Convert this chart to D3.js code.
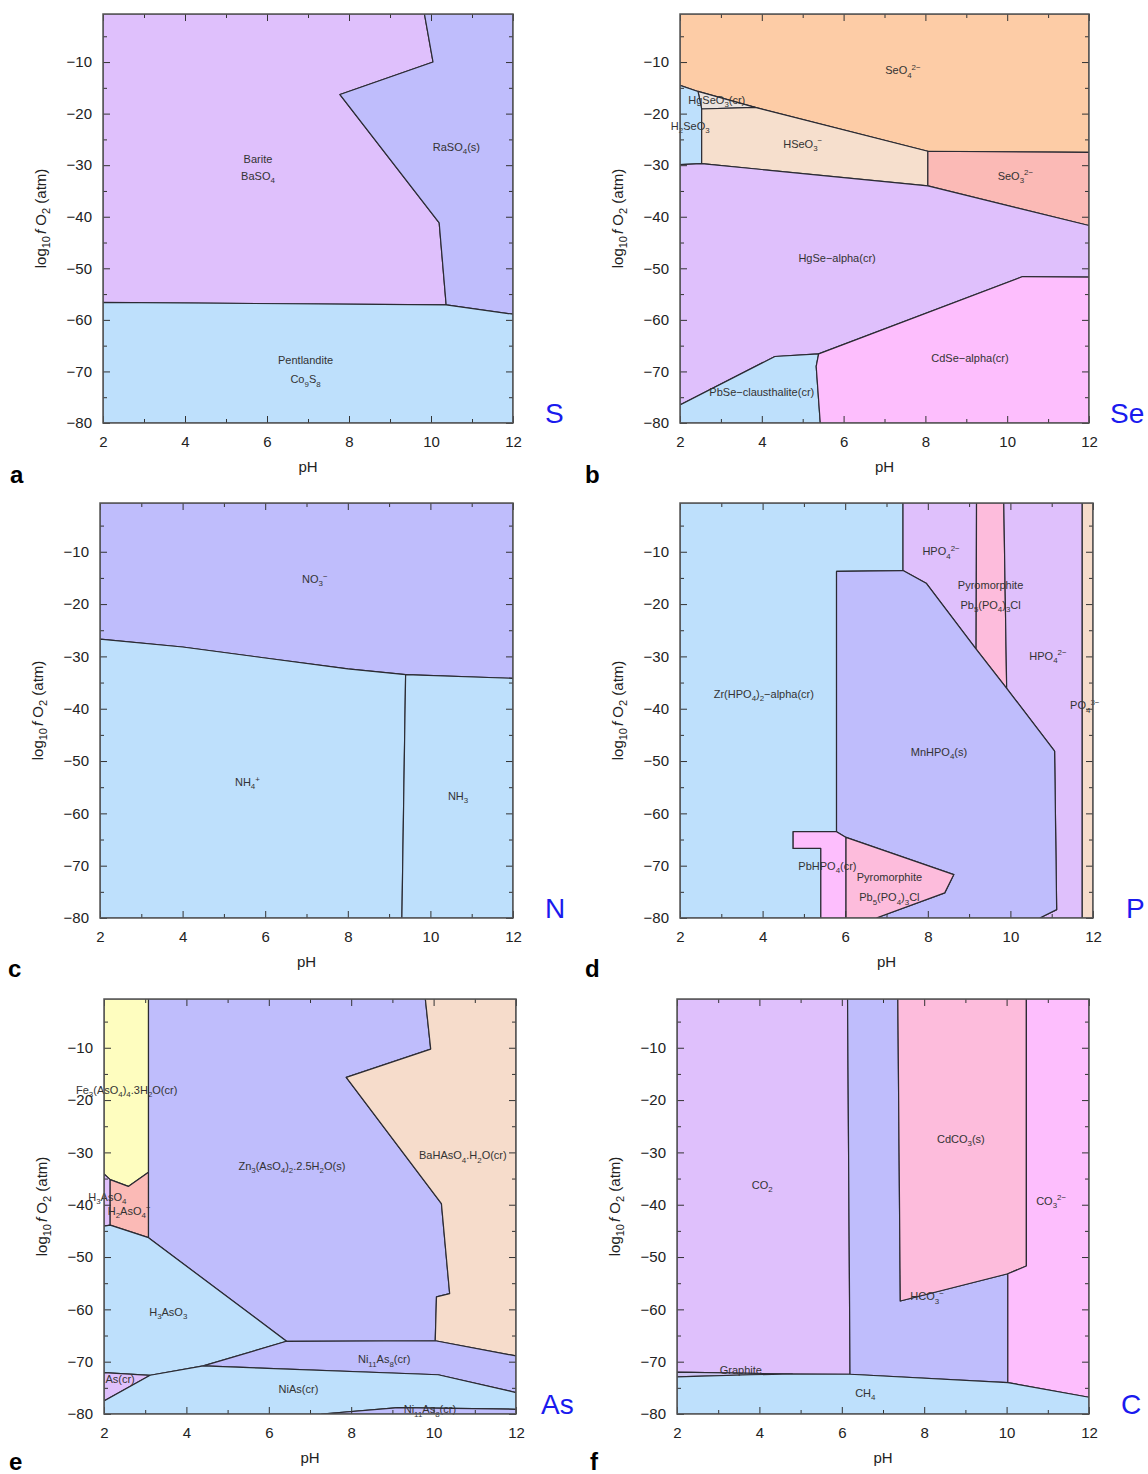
<!DOCTYPE html>
<html><head><meta charset="utf-8">
<script src="https://cdn.jsdelivr.net/npm/d3@7"></script>
<style>
body{margin:0;background:#fff}
svg{display:block}
text{font-family:"Liberation Sans",Arial,Helvetica,sans-serif}
</style>
</head><body>
<svg id="chart" width="1148" height="1474"></svg>
<script>
// ---------- axes ----------
const TOP = -0.68;               // log10 fO2 of air, top of every panel
const pHTicks = [2, 4, 6, 8, 10, 12];
const pHMinor = [3, 5, 7, 9, 11];
const logTicks = [-10, -20, -30, -40, -50, -60, -70, -80];
const logMinor = [-5, -15, -25, -35, -45, -55, -65, -75];

// ---------- colours ----------
const LAV = "#dfc0fc", PERI = "#bfbdfc", LBLUE = "#bee0fc", ORANGE = "#fdcca6",
      PEACH = "#f6dfcd", PEACH2 = "#f6dccb", SALMON = "#fbbab6", MAGENTA = "#fdbefd",
      PINK = "#fdbcdc", YELLOW = "#fefdbf", GREY = "#ebe3df", GRAPH = "#cfc6f4";

// ---------- panel a : S ----------
const S_barite = [[2,TOP],[9.84,TOP],[10.05,-10.0],[7.78,-16.3],[10.2,-41.2],[10.37,-57.1],[2,-56.6]];
const S_raso4 = [[9.84,TOP],[12,TOP],[12,-58.9],[10.37,-57.1],[10.2,-41.2],[7.78,-16.3],[10.05,-10.0]];
const S_pent = [[2,-56.6],[10.37,-57.1],[12,-58.9],[12,-80],[2,-80]];
const S_labels = [["Barite",5.78,-29.6],["BaSO_{4}",5.78,-32.9],["RaSO_{4}(s)",10.62,-27.2],
                  ["Pentlandite",6.94,-68.6],["Co_{9}S_{8}",6.94,-72.3]];

// ---------- panel b : Se ----------
const Se_seo4 = [[2,TOP],[12,TOP],[12,-27.5],[8.06,-27.3],[3.84,-18.8],[2.44,-15.7],[2,-14.5]];
const Se_hgseo3 = [[2.44,-15.7],[3.84,-18.8],[2.53,-19.1]];
const Se_h2seo3 = [[2,-14.5],[2.44,-15.7],[2.53,-19.1],[2.53,-29.7],[2,-29.9]];
const Se_hseo3 = [[2.53,-19.1],[3.84,-18.8],[8.06,-27.3],[8.06,-34.0],[2.53,-29.7]];
const Se_seo3 = [[8.06,-27.3],[12,-27.5],[12,-41.7],[8.06,-34.0]];
const Se_hgse = [[2,-29.9],[2.53,-29.7],[8.06,-34.0],[12,-41.7],[12,-51.7],[10.38,-51.6],[5.39,-66.6],[4.32,-67.1],[2,-76.5]];
const Se_pbse = [[2,-76.5],[4.32,-67.1],[5.39,-66.6],[5.33,-69.0],[5.43,-80],[2,-80]];
const Se_cdse = [[5.39,-66.6],[10.38,-51.6],[12,-51.7],[12,-80],[5.43,-80],[5.33,-69.0]];
const Se_labels = [["SeO_{4}^{2−}",7.45,-12.4],["HgSeO_{3}(cr)",2.9,-18.1],["H_{2}SeO_{3}",2.25,-23.2],
                   ["HSeO_{3}^{−}",5.0,-26.6],["SeO_{3}^{2−}",10.2,-32.8],["HgSe−alpha(cr)",5.84,-48.8],
                   ["CdSe−alpha(cr)",9.09,-68.2],["PbSe−clausthalite(cr)",4.0,-74.8]];

// ---------- panel c : N ----------
const N_no3 = [[2,TOP],[12,TOP],[12,-34.2],[9.4,-33.5],[8,-32.4],[6,-30.3],[4,-28.2],[2,-26.7]];
const N_nh4 = [[2,-26.7],[4,-28.2],[6,-30.3],[8,-32.4],[9.4,-33.5],[9.31,-80],[2,-80]];
const N_nh3 = [[9.4,-33.5],[12,-34.2],[12,-80],[9.31,-80]];
const N_labels = [["NO_{3}^{−}",7.2,-16.0],["NH_{4}^{+}",5.57,-54.8],["NH_{3}",10.67,-57.4]];

// ---------- panel d : P ----------
const P_zr = [[2,TOP],[7.40,TOP],[7.40,-13.6],[5.79,-13.75],[5.79,-63.5],[4.74,-63.5],[4.74,-66.7],[5.41,-66.7],[5.41,-80],[2,-80]];
const P_hpo4a = [[7.40,TOP],[9.18,TOP],[9.17,-28.6],[7.96,-16.0],[7.40,-13.6]];
const P_pyro1 = [[9.18,TOP],[9.84,TOP],[9.91,-36.1],[9.17,-28.6]];
const P_hpo4b = [[9.84,TOP],[11.74,TOP],[11.74,-80],[10.71,-80],[11.12,-78.4],[11.07,-48.1],[9.91,-36.1]];
const P_po4 = [[11.74,TOP],[12,TOP],[12,-80],[11.74,-80]];
const P_mn = [[5.79,-13.75],[7.40,-13.6],[7.96,-16.0],[9.17,-28.6],[9.91,-36.1],[11.07,-48.1],[11.12,-78.4],[10.71,-80],[6.75,-80],[8.41,-75.2],[8.63,-71.7],[6.02,-64.6],[5.79,-63.5]];
const P_pbhpo4 = [[4.74,-63.5],[5.79,-63.5],[6.02,-64.6],[6.02,-80],[5.41,-80],[5.41,-66.7],[4.74,-66.7]];
const P_pyro2 = [[6.02,-64.6],[8.63,-71.7],[8.41,-75.2],[6.75,-80],[6.02,-80]];
const P_labels = [["HPO_{4}^{2−}",8.32,-10.7],["Pyromorphite",9.52,-17.1],["Pb_{5}(PO_{4})_{3}Cl",9.52,-20.9],
                  ["HPO_{4}^{2−}",10.91,-30.7],["PO_{4}^{3−}",11.8,-40.1],["Zr(HPO_{4})_{2}−alpha(cr)",4.03,-37.9],
                  ["MnHPO_{4}(s)",8.27,-49.0],["PbHPO_{4}(cr)",5.57,-70.8],["Pyromorphite",7.07,-73.0],
                  ["Pb_{5}(PO_{4})_{3}Cl",7.07,-76.8]];

// ---------- panel e : As ----------
const As_fe = [[2,TOP],[3.08,TOP],[3.08,-33.8],[2.59,-36.5],[2.15,-35.2],[2,-34.1]];
const As_h3aso4 = [[2,-34.1],[2.15,-35.2],[2.15,-43.9],[2,-44.1]];
const As_h2aso4 = [[2.15,-35.2],[2.59,-36.5],[3.08,-33.8],[3.08,-46.3],[2.15,-43.9]];
const As_zn = [[3.08,TOP],[9.8,TOP],[9.93,-10.25],[7.88,-15.65],[10.19,-39.8],[10.39,-57.0],[10.07,-57.6],[10.04,-66.0],[6.43,-66.1],[3.08,-46.3]];
const As_ba = [[9.8,TOP],[12,TOP],[12,-68.9],[10.04,-66.0],[10.07,-57.6],[10.39,-57.0],[10.19,-39.8],[7.88,-15.65],[9.93,-10.25]];
const As_h3aso3 = [[2,-44.1],[2.15,-43.9],[3.08,-46.3],[6.43,-66.1],[4.41,-70.8],[3.12,-72.6],[2,-72.1]];
const As_ni11a = [[6.43,-66.1],[10.04,-66.0],[12,-68.9],[12,-75.9],[10.11,-72.5],[4.41,-70.8]];
const As_ascr = [[2,-72.1],[3.12,-72.6],[2,-77.5]];
const As_nias = [[2,-77.5],[3.12,-72.6],[4.41,-70.8],[10.11,-72.5],[12,-75.9],[12,-79.1],[9.14,-78.8],[7.28,-80],[2,-80]];
const As_ni11b = [[7.28,-80],[9.14,-78.8],[12,-79.1],[12,-80]];
const As_labels = [["Fe_{3}(AsO_{4})_{4}.3H_{2}O(cr)",2.55,-18.8],["H_{3}AsO_{4}",2.08,-39.2],["H_{2}AsO_{4}^{−}",2.61,-41.9],
                   ["Zn_{3}(AsO_{4})_{2}.2.5H_{2}O(s)",6.56,-33.4],["BaHAsO_{4}.H_{2}O(cr)",10.71,-31.3],
                   ["H_{3}AsO_{3}",3.56,-61.2],["Ni_{11}As_{8}(cr)",8.80,-70.3],["As(cr)",2.39,-74.1],
                   ["NiAs(cr)",6.72,-76.0],["Ni_{11}As_{8}(cr)",9.91,-79.9]];

// ---------- panel f : C ----------
const C_co2 = [[2,TOP],[6.14,TOP],[6.2,-72.4],[4.8,-72.35],[2,-72.0]];
const C_graph = [[2,-72.0],[4.8,-72.35],[3.8,-72.5],[2,-72.9]];
const C_hco3 = [[6.14,TOP],[7.36,TOP],[7.42,-58.4],[10.03,-53.2],[10.03,-74.0],[6.2,-72.4]];
const C_cdco3 = [[7.36,TOP],[10.48,TOP],[10.48,-51.7],[10.03,-53.2],[7.42,-58.4]];
const C_co3 = [[10.48,TOP],[12,TOP],[12,-76.8],[10.03,-74.0],[10.03,-53.2],[10.48,-51.7]];
const C_ch4 = [[2,-72.9],[3.8,-72.5],[4.8,-72.35],[6.2,-72.4],[10.03,-74.0],[12,-76.8],[12,-80],[2,-80]];
const C_labels = [["CO_{2}",4.07,-37.0],["CdCO_{3}(s)",8.89,-28.2],["CO_{3}^{2−}",11.08,-40.0],
                  ["HCO_{3}^{−}",8.07,-58.3],["Graphite",3.55,-72.4],["CH_{4}",6.57,-76.7]];

// ---------- panel layout ----------
const panels = [
  {letter:"a", elem:"S",  x0:103, x1:513,  yT:14,  yB:423,  lx:10,  ly:483,  ex:545,
   regions:[[S_barite,LAV],[S_raso4,PERI],[S_pent,LBLUE]], labels:S_labels},
  {letter:"b", elem:"Se", x0:680, x1:1089, yT:14,  yB:423,  lx:585, ly:483,  ex:1110,
   regions:[[Se_seo4,ORANGE],[Se_hgseo3,GREY],[Se_h2seo3,LBLUE],[Se_hseo3,PEACH],[Se_seo3,SALMON],
            [Se_hgse,LAV],[Se_pbse,LBLUE],[Se_cdse,MAGENTA]], labels:Se_labels},
  {letter:"c", elem:"N",  x0:100, x1:513,  yT:503, yB:918,  lx:8,   ly:977,  ex:545,
   regions:[[N_no3,PERI],[N_nh4,LBLUE],[N_nh3,LBLUE]], labels:N_labels},
  {letter:"d", elem:"P",  x0:680, x1:1093, yT:503, yB:918,  lx:585, ly:977,  ex:1126,
   regions:[[P_zr,LBLUE],[P_hpo4a,LAV],[P_pyro1,PINK],[P_hpo4b,LAV],[P_po4,PEACH2],[P_mn,PERI],
            [P_pbhpo4,MAGENTA],[P_pyro2,PINK]], labels:P_labels},
  {letter:"e", elem:"As", x0:104, x1:516,  yT:999, yB:1414, lx:9,   ly:1470, ex:541,
   regions:[[As_fe,YELLOW],[As_h3aso4,LAV],[As_h2aso4,SALMON],[As_zn,PERI],[As_ba,PEACH2],[As_h3aso3,LBLUE],
            [As_ni11a,PERI],[As_ascr,LAV],[As_nias,LBLUE],[As_ni11b,PERI]], labels:As_labels},
  {letter:"f", elem:"C",  x0:677, x1:1089, yT:999, yB:1414, lx:590, ly:1470, ex:1121,
   regions:[[C_co2,LAV],[C_graph,GRAPH],[C_hco3,PERI],[C_cdco3,PINK],[C_co3,MAGENTA],[C_ch4,LBLUE]], labels:C_labels}
];

const svg = d3.select("#chart");
const FONT = '"Liberation Sans",Arial,Helvetica,sans-serif';

function rich(textSel, str, fs) {
  const re = /([_^])\{([^}]*)\}|([^_^]+)/g;
  let cur = 0, m;
  while ((m = re.exec(str)) !== null) {
    let t, target = 0, size = fs;
    if (m[1]) { t = m[2]; target = m[1] === "_" ? 0.3 * fs : -0.42 * fs; size = 0.72 * fs; }
    else t = m[3];
    textSel.append("tspan").text(t).attr("dy", (target - cur) + "px").attr("font-size", size);
    cur = target;
  }
}

panels.forEach((p, i) => {
  const x = d3.scaleLinear().domain([2, 12]).range([p.x0, p.x1]);
  const y = d3.scaleLinear().domain([-80, TOP]).range([p.yB, p.yT]);
  const g = svg.append("g");
  const clipId = "clip" + i;
  g.append("clipPath").attr("id", clipId).append("rect")
    .attr("x", p.x0).attr("y", p.yT).attr("width", p.x1 - p.x0).attr("height", p.yB - p.yT);
  const line = d3.line().x(d => x(d[0])).y(d => y(d[1]));
  const pg = g.append("g").attr("clip-path", `url(#${clipId})`);
  pg.selectAll("path").data(p.regions).join("path")
    .attr("d", d => line(d[0]) + "Z")
    .attr("fill", d => d[1])
    .attr("stroke", "#2b2b33").attr("stroke-width", 1.2).attr("stroke-linejoin", "round");

  // region labels
  p.labels.forEach(l => {
    const t = g.append("text").attr("x", x(l[1])).attr("y", y(l[2]))
      .attr("text-anchor", "middle").attr("dy", "0.35em")
      .attr("fill", "#333").attr("font-family", FONT);
    rich(t, l[0], 11);
  });

  // axes (ticks inward on all sides)
  const styleAxis = sel => {
    sel.select(".domain").remove();
    sel.attr("font-size", 15).attr("font-family", FONT);
    sel.selectAll("line").attr("stroke", "#333");
    sel.selectAll("text").attr("fill", "#222");
  };
  g.append("g").attr("transform", `translate(0,${p.yB})`)
    .call(d3.axisBottom(x).tickValues(pHTicks).tickSize(-7).tickPadding(13)).call(styleAxis);
  g.append("g").attr("transform", `translate(0,${p.yB})`)
    .call(d3.axisBottom(x).tickValues(pHMinor).tickSize(-4).tickFormat("")).call(styleAxis);
  g.append("g").attr("transform", `translate(0,${p.yT})`)
    .call(d3.axisTop(x).tickValues(pHTicks).tickSize(-7).tickFormat("")).call(styleAxis);
  g.append("g").attr("transform", `translate(0,${p.yT})`)
    .call(d3.axisTop(x).tickValues(pHMinor).tickSize(-4).tickFormat("")).call(styleAxis);
  g.append("g").attr("transform", `translate(${p.x0},0)`)
    .call(d3.axisLeft(y).tickValues(logTicks).tickSize(-7).tickPadding(11)).call(styleAxis);
  g.append("g").attr("transform", `translate(${p.x0},0)`)
    .call(d3.axisLeft(y).tickValues(logMinor).tickSize(-4).tickFormat("")).call(styleAxis);
  g.append("g").attr("transform", `translate(${p.x1},0)`)
    .call(d3.axisRight(y).tickValues(logTicks).tickSize(-7).tickFormat("")).call(styleAxis);
  g.append("g").attr("transform", `translate(${p.x1},0)`)
    .call(d3.axisRight(y).tickValues(logMinor).tickSize(-4).tickFormat("")).call(styleAxis);

  // frame
  g.append("rect").attr("x", p.x0).attr("y", p.yT).attr("width", p.x1 - p.x0).attr("height", p.yB - p.yT)
    .attr("fill", "none").attr("stroke", "#555").attr("stroke-width", 1.5);

  // axis titles
  g.append("text").attr("x", (p.x0 + p.x1) / 2).attr("y", p.yB + 49)
    .attr("text-anchor", "middle").attr("font-size", 15).attr("fill", "#222").text("pH");
  const yt = g.append("text")
    .attr("transform", `translate(${p.x0 - 62},${(p.yT + p.yB) / 2}) rotate(-90)`)
    .attr("text-anchor", "middle").attr("dy", "0.35em").attr("font-size", 15).attr("fill", "#222");
  yt.append("tspan").text("log");
  yt.append("tspan").text("10").attr("font-size", 11).attr("dy", "4px");
  yt.append("tspan").text("f").attr("font-style", "italic").attr("dy", "-4px").attr("dx", "2px");
  yt.append("tspan").text(" O");
  yt.append("tspan").text("2").attr("font-size", 11).attr("dy", "4px");
  yt.append("tspan").text(" (atm)").attr("dy", "-4px");

  // element label and panel letter
  g.append("text").attr("x", p.ex).attr("y", p.yB).attr("font-size", 28)
    .attr("fill", "#1a1aee").text(p.elem);
  g.append("text").attr("x", p.lx).attr("y", p.ly).attr("font-size", 24)
    .attr("font-weight", "bold").attr("fill", "#000").text(p.letter);
});
</script>
</body></html>
